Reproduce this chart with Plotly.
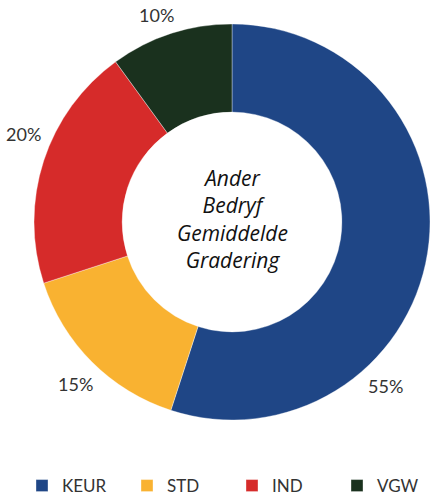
import math
import plotly.graph_objects as go

categories = ["KEUR", "STD", "IND", "VGW"]
values = [55, 15, 20, 10]
colors = ["#1F4686", "#F9B231", "#D62B2A", "#1A311E"]
center_lines = ["Ander", "Bedryf", "Gemiddelde", "Gradering"]

W, H = 430, 500
CX, CY, R = 232, 222, 198          # pie centre / radius in pixels
LABEL_GAP = 208                     # distance from centre to label box edge
HALF_W, HALF_H = 17, 7              # approx half size of a label box
label_shift_deg = [38, -1, 5, -2]   # small angular nudges seen in the reference

fig = go.Figure(go.Pie(
    labels=categories,
    values=values,
    hole=0.555,
    sort=False,
    direction="clockwise",
    rotation=0,
    marker=dict(colors=colors, line=dict(color="rgba(255,255,255,0.6)", width=0.6)),
    textinfo="none",
    domain=dict(x=[(CX - R) / W, (CX + R) / W], y=[1 - (CY + R) / H, 1 - (CY - R) / H]),
    showlegend=True,
    hoverinfo="label+percent",
))

# percentage labels outside the ring, at each slice's mid angle
total = sum(values)
cum = 0
for v, shift in zip(values, label_shift_deg):
    mid = (cum + v / 2) / total * 360 + shift
    cum += v
    a = math.radians(mid)
    r = LABEL_GAP + abs(math.sin(a)) * HALF_W + abs(math.cos(a)) * HALF_H
    px = CX + r * math.sin(a)
    py = CY - r * math.cos(a)
    fig.add_annotation(
        text=f"{round(v / total * 100)}%",
        x=px / W, y=1 - py / H, xref="paper", yref="paper",
        showarrow=False, xanchor="center", yanchor="middle",
        font=dict(family="Lato", size=18, color="#333333"),
    )

fig.add_annotation(
    text="<i>" + "<br>".join(center_lines) + "</i>",
    x=CX / W, y=1 - (CY - 3) / H, xref="paper", yref="paper",
    showarrow=False, align="center",
    font=dict(family="Open Sans", size=21, color="#111111"),
)

fig.update_layout(
    width=W, height=H,
    margin=dict(l=0, r=0, t=0, b=0, autoexpand=False),
    paper_bgcolor="white",
    plot_bgcolor="white",
    legend=dict(
        orientation="h",
        x=22 / W, xanchor="left",
        y=1 - 486 / H, yanchor="middle",
        entrywidth=60, entrywidthmode="pixels",
        font=dict(family="Lato", size=17, color="#333333"),
        itemclick=False,
    ),
)

fig.write_html(
    "out.html",
    config={"displayModeBar": False},
    post_script="document.body.style.margin='0px';document.body.style.overflow='hidden';",
)
